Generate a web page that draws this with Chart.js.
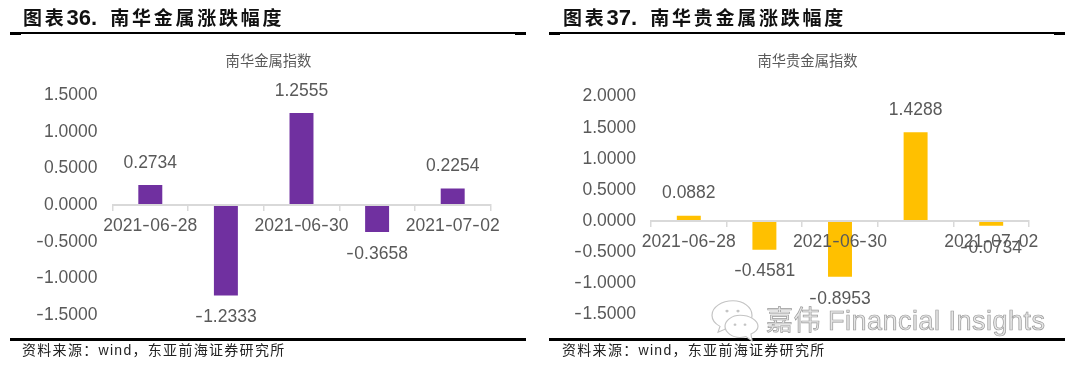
<!DOCTYPE html>
<html><head><meta charset="utf-8">
<script src="https://cdn.jsdelivr.net/npm/chart.js@4"></script>
<style>
@font-face{font-family:HY;src:local("Inter"),local("Inter Regular");unicode-range:U+2D;}
html,body{margin:0;padding:0;background:#fff;}
#page{position:relative;width:1080px;height:372px;overflow:hidden;background:#fff;font-family:"Liberation Sans","Noto Sans CJK SC",sans-serif;}
canvas{position:absolute;}
.h{position:absolute;top:5px;font-size:19px;line-height:26px;font-weight:700;letter-spacing:2.75px;word-spacing:-1.5px;color:#111;white-space:pre;}
.h b{font-family:"Liberation Sans";font-size:22px;letter-spacing:0;}
.s{position:absolute;top:342px;font-size:14px;line-height:16px;letter-spacing:1.3px;color:#222;white-space:pre;}
.r{position:absolute;background:#000;}
#wm{position:absolute;left:705px;top:298px;width:375px;height:62px;pointer-events:none;}
#wm text{font-family:"Liberation Sans","Noto Sans CJK SC";font-size:27px;fill:#e6e6e6;stroke:#9a9a9a;stroke-width:.7;letter-spacing:.5px;}
</style></head><body><div id="page">
<canvas id="c1" width="540" height="372" style="left:0;top:0;width:540px;height:372px"></canvas>
<canvas id="c2" width="540" height="372" style="left:540px;top:0;width:540px;height:372px"></canvas>
<div class="h" style="left:23px">图表<b>36.</b>  南华金属涨跌幅度</div>
<div class="h" style="left:563px">图表<b>37.</b>  南华贵金属涨跌幅度</div>
<div class="r" style="left:10px;top:32px;width:516px;height:1.5px"></div>
<div class="r" style="left:10px;top:32px;width:11px;height:2.5px"></div>
<div class="r" style="left:515px;top:32px;width:11px;height:2.5px"></div>
<div class="r" style="left:549px;top:32px;width:516px;height:1.5px"></div>
<div class="r" style="left:549px;top:32px;width:11px;height:2.5px"></div>
<div class="r" style="left:1054px;top:32px;width:11px;height:2.5px"></div>
<div class="r" style="left:10px;top:338px;width:516px;height:2.5px"></div>
<div class="r" style="left:549px;top:338px;width:516px;height:2.5px"></div>
<div class="s" style="left:22px">资料来源：wind，东亚前海证券研究所</div>
<div class="s" style="left:562px">资料来源：wind，东亚前海证券研究所</div>
<svg id="wm" viewBox="0 0 375 62">
<g transform="translate(5,2) scale(1,.85)">
<g fill="#fff" stroke="#c4c4c4" stroke-width="1.2">
<path d="M23 1C12 1 2 8 2 18c0 6 3 10 8 13l-2 7 8-4c3 1 5 1 8 1 10 0 18-7 18-17S33 1 23 1z"/>
<path d="M30 18c-8 0-15 6-15 13s7 13 15 13c2 0 4 0 6-1l6 5-1-8c4-2 7-5 7-9 0-7-8-13-18-13z"/>
</g>
<g fill="#c4c4c4"><circle cx="17" cy="13" r="1.6"/><circle cx="28" cy="13" r="1.6"/><circle cx="25" cy="29" r="1.4"/><circle cx="35" cy="29" r="1.4"/></g>
</g>
<text x="61" y="32">嘉伟</text>
<text x="123" y="32">Financial Insights</text>
</svg>
</div>
<script>
const categories = ["2021-06-28","2021-06-29","2021-06-30","2021-07-01","2021-07-02"];
const xTickLabels = ["2021-06-28","","2021-06-30","","2021-07-02"];
const metalValues = [0.2734,-1.2333,1.2555,-0.3658,0.2254];
const preciousValues = [0.0882,-0.4581,-0.8953,1.4288,-0.0734];
const metalTitle = "南华金属指数";
const preciousTitle = "南华贵金属指数";
const metalColor = "#7030A0";
const preciousColor = "#FFC000";
const FONT = 'HY,"Liberation Sans",sans-serif';
const GRAY = "#595959";

const valueLabels = {
  id:"valueLabels",
  afterLayout(chart,args,opts){
    chart.titleBlock.left = 0;
    chart.titleBlock.right = 2*opts.titleCenter;
  },
  afterDraw(chart){
    const ctx = chart.ctx, meta = chart.getDatasetMeta(0), vals = chart.data.datasets[0].data;
    ctx.save();
    ctx.font = '17.5px ' + FONT;
    ctx.fillStyle = GRAY;
    ctx.textAlign = "center";
    ctx.textBaseline = "middle";
    meta.data.forEach((bar,i)=>{
      const v = vals[i];
      ctx.fillText(v.toFixed(4), bar.x, bar.y + (v>=0 ? -22 : 22));
    });
    ctx.restore();
  }
};

function build(id,title,values,color,min,max,geo){
  return new Chart(document.getElementById(id),{
    type:"bar",
    data:{labels:categories,datasets:[{label:title,data:values,backgroundColor:color,borderWidth:0,barPercentage:0.317,categoryPercentage:1}]},
    plugins:[valueLabels],
    options:{
      responsive:false,animation:false,
      layout:{padding:{left:0,right:geo.padR,top:0,bottom:geo.padB}},
      plugins:{
        legend:{display:false},tooltip:{enabled:false},
        valueLabels:{titleCenter:geo.center},
        title:{display:true,text:title,color:GRAY,font:{family:'"Noto Sans CJK SC"',size:14.3,weight:"normal"},padding:{top:52,bottom:geo.titleB}}
      },
      scales:{
        x:{
          position:{y:0},offset:true,
          border:{display:true,color:"#D9D9D9",width:2,z:1},
          grid:{display:true,drawOnChartArea:false,drawTicks:true,tickLength:5,color:"#D9D9D9",lineWidth:1.5,offset:true},
          ticks:{z:1,autoSkip:false,maxRotation:0,minRotation:0,padding:5.5,color:GRAY,font:{family:FONT,size:17.5},
            callback:(v,i)=>xTickLabels[i]}
        },
        y:{
          min,max,
          border:{display:false},grid:{display:false,drawTicks:false},
          ticks:{stepSize:0.5,padding:15,color:GRAY,font:{family:FONT,size:17.5},callback:v=>Number(v).toFixed(4)},
          afterFit(s){s.width=geo.axisW;}
        }
      }
    }
  });
}
const a = build("c1",metalTitle,metalValues,metalColor,-1.5,1.5,{padR:49.5,padB:57,titleB:26,axisW:112.5,center:268.5});
const b = build("c2",preciousTitle,preciousValues,preciousColor,-1.5,2,{padR:51,padB:57.5,titleB:27.5,axisW:111,center:267.5});
if(document.fonts&&document.fonts.load){
  document.fonts.load('17.5px HY','-').then(()=>{a.update();b.update();}).catch(()=>{});
}
</script></body></html>
